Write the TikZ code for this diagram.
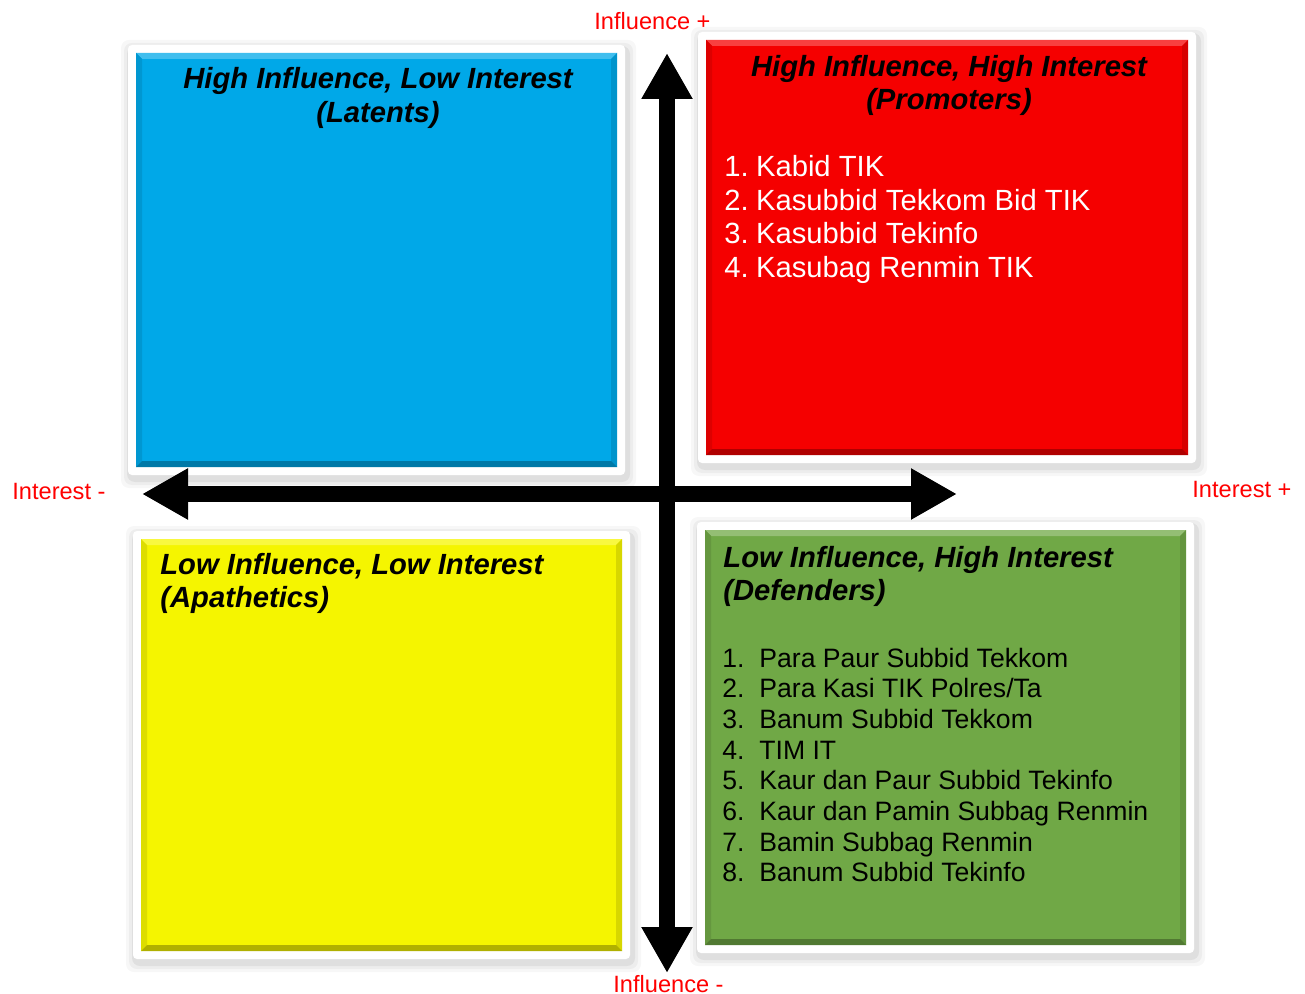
\documentclass[tikz,border=0pt]{standalone}
\usepackage{fontspec}
\setmainfont{Liberation Sans}
\usetikzlibrary{arrows.meta}

\definecolor{qblue}{RGB}{0,168,232}
\definecolor{qred}{RGB}{245,0,0}
\definecolor{qyellow}{RGB}{245,245,0}
\definecolor{qgreen}{RGB}{112,168,70}
\definecolor{axisred}{RGB}{255,0,0}

\tikzset{
  quadtitle/.style={font=\bfseries\itshape\fontsize{14.6}{17}\selectfont, inner sep=0pt},
  redlist/.style={font=\fontsize{14.6}{17}\selectfont, text=white, inner sep=0pt, anchor=base west},
  greenlist/.style={font=\fontsize{13.3}{15}\selectfont, inner sep=0pt, anchor=base west},
  axislabel/.style={font=\fontsize{11.8}{14}\selectfont, text=axisred, inner sep=0pt, anchor=base west},
  bigarrow/.style={line width=8pt, {Triangle[width=24pt,length=23pt]}-{Triangle[width=24pt,length=23pt]}}
}

% #1,#2 inner upper left, #3,#4 inner lower right, #5 colour
\newcommand{\quadrant}[5]{%
  \foreach \s/\o in {9/0.03,6/0.04,3/0.06}
  {
    \fill[black,opacity=\o,rounded corners=4] (#1-6-\s,#2-4-\s) rectangle (#3+10+\s,#4+12+\s);
  }
  \fill[white,rounded corners=2] (#1-8,#2-8) rectangle (#3+8,#4+8);
  \fill[#5] (#1,#2) rectangle (#3,#4);
  \fill[#5!75!white] (#1,#2)--(#3,#2)--(#3-6,#2+6)--(#1+6,#2+6)--cycle;
  \fill[#5!90!black] (#1,#2)--(#1+6,#2+6)--(#1+6,#4-6)--(#1,#4)--cycle;
  \fill[#5!88!black] (#3,#2)--(#3-6,#2+6)--(#3-6,#4-6)--(#3,#4)--cycle;
  \fill[#5!72!black] (#1,#4)--(#1+6,#4-6)--(#3-6,#4-6)--(#3,#4)--cycle;
}

\begin{document}
\begin{tikzpicture}[x=0.5pt, y=-0.5pt]
\useasboundingbox (0,0) rectangle (1305,994);

% quadrants
\quadrant{136}{53}{617}{467}{qblue}
\quadrant{706}{40}{1188}{455}{qred}
\quadrant{141}{539}{622}{951}{qyellow}
\quadrant{705}{530}{1186}{945}{qgreen}

% axes
\coordinate (inftop) at (667,53);
\coordinate (infbot) at (667,973);
\coordinate (intleft) at (142,494);
\coordinate (intright) at (957,494);
\draw[bigarrow] (infbot)--(inftop);
\draw[bigarrow] (intleft)--(intright);

\node[axislabel] (infplus) at (594,30) {Influence +};
\node[axislabel] (infminus) at (613,992) {Influence -};
\node[axislabel] (intminus) at (12,499) {Interest -};
\node[axislabel] (intplus) at (1192,497) {Interest +};

% high influence, low interest
\node[quadtitle, anchor=base] (bluetitle) at (378,89) {High Influence, Low Interest};
\node[quadtitle, anchor=base] (bluesub) at (378,123) {(Latents)};

% high influence, high interest
\node[quadtitle, anchor=base] (redtitle) at (949,77) {High Influence, High Interest};
\node[quadtitle, anchor=base] (redsub) at (949,110) {(Promoters)};
\foreach \t [count=\i] in {Kabid TIK, Kasubbid Tekkom Bid TIK, Kasubbid Tekinfo, Kasubag Renmin TIK}
{
    \node[redlist] (red\i) at (724,177+33.4*\i-33.4) {\i.\hspace{0.25em}\t};
}

% low influence, low interest
\node[quadtitle, anchor=base west] (yellowtitle) at (160,574) {Low Influence, Low Interest};
\node[quadtitle, anchor=base west] (yellowsub) at (160,607) {(Apathetics)};

% low influence, high interest
\node[quadtitle, anchor=base west] (greentitle) at (723,567) {Low Influence, High Interest};
\node[quadtitle, anchor=base west] (greensub) at (723,600) {(Defenders)};
\foreach \t [count=\i] in {Para Paur Subbid Tekkom, Para Kasi TIK Polres/Ta, Banum Subbid Tekkom, TIM IT,
    Kaur dan Paur Subbid Tekinfo, Kaur dan Pamin Subbag Renmin, Bamin Subbag Renmin, Banum Subbid Tekinfo}
{
    \node[greenlist] (green\i) at (722,667+30.7*\i-30.7) {\makebox[18.5pt][l]{\i.}\t};
}

\end{tikzpicture}
\end{document}
